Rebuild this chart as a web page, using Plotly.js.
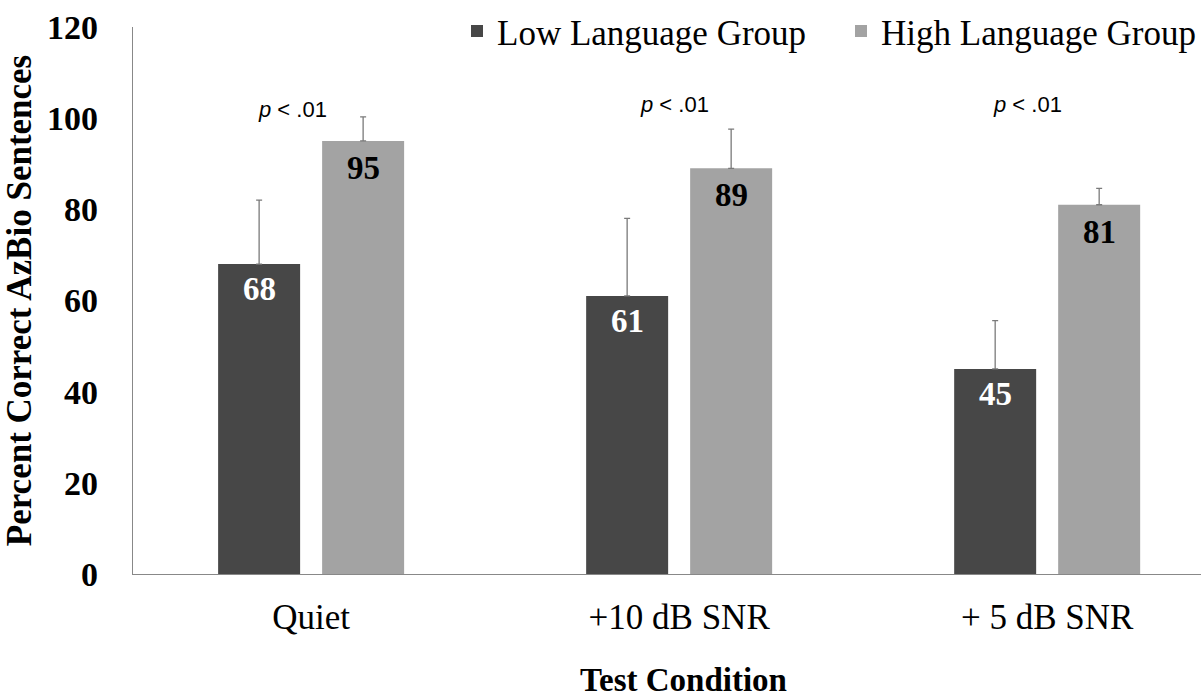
<!DOCTYPE html>
<html>
<head>
<meta charset="utf-8">
<script src="https://cdn.plot.ly/plotly-3.0.1.min.js"></script>
<style>html,body{margin:0;padding:0;background:#fff;}#chart{width:1201px;height:698px;}</style>
</head>
<body>
<div id="chart"></div>
<script>
const categories = ["Quiet", "+10 dB SNR", "+ 5 dB SNR"];
const lowValues = [68, 61, 45];
const highValues = [95, 89, 81];
const lowErr = [14, 17, 10.6];
const highErr = [5.3, 8.6, 3.6];
const seriesNames = ["Low Language Group", "High Language Group"];
const yTicks = [0, 20, 40, 60, 80, 100, 120];
const pLabel = "<i>p</i> < .01";
const pY = [101.9, 103.0, 103.0];
const pShift = [-0.05, -0.012, -0.054];

const serif = "Liberation Serif, Times New Roman, serif";
const barOffset = 0.1413;

const traces = [
  {type: "bar", name: seriesNames[0], x: categories, y: lowValues, legend: "legend",
   marker: {color: "#474747"},
   error_y: {type: "data", array: lowErr, symmetric: false, arrayminus: [0,0,0], color: "#7a7a7a", thickness: 1.3, width: 3},
   hoverinfo: "none"},
  {type: "bar", name: seriesNames[1], x: categories, y: highValues, legend: "legend2",
   marker: {color: "#a3a3a3"},
   error_y: {type: "data", array: highErr, symmetric: false, arrayminus: [0,0,0], color: "#7a7a7a", thickness: 1.3, width: 3},
   hoverinfo: "none"}
];

const annotations = [];
categories.forEach((c, i) => {
  annotations.push({x: i - barOffset, y: lowValues[i], xref: "x", yref: "y", text: "<b>" + lowValues[i] + "</b>",
    showarrow: false, yanchor: "top", yshift: -5, font: {family: serif, size: 33, color: "#ffffff"}});
  annotations.push({x: i + barOffset, y: highValues[i], xref: "x", yref: "y", text: "<b>" + highValues[i] + "</b>",
    showarrow: false, yanchor: "top", yshift: -7, font: {family: serif, size: 33, color: "#000000"}});
  annotations.push({x: i + pShift[i], y: pY[i], xref: "x", yref: "y", text: pLabel,
    showarrow: false, font: {family: "Liberation Sans, Arial, sans-serif", size: 22, color: "#000000"}});
});
annotations.push({x: 0.515, y: -(700 - 574) / 547, xref: "paper", yref: "paper", yanchor: "bottom",
  text: "<b>Test Condition</b>", showarrow: false,
  font: {family: serif, size: 33, color: "#000"}});

const legendFont = {family: serif, size: 35, color: "#000"};
const layout = {
  width: 1201, height: 698,
  margin: {l: 133, r: 0, t: 27, b: 124},
  paper_bgcolor: "#ffffff", plot_bgcolor: "#ffffff",
  barmode: "group", bargap: 0.4348, bargroupgap: 0.2116,
  showlegend: true,
  legend: {orientation: "h", x: (457 - 133) / 1068, xanchor: "left", y: 1.046, yanchor: "top",
    font: legendFont, bgcolor: "rgba(0,0,0,0)"},
  legend2: {orientation: "h", x: 1, xanchor: "right", y: 1.046, yanchor: "top",
    font: legendFont, bgcolor: "rgba(0,0,0,0)"},
  xaxis: {type: "category", range: [-0.484, 2.418], showline: true, linecolor: "#888", linewidth: 1.3,
    ticks: "", showgrid: false, zeroline: false, ticklabelstandoff: 12,
    tickfont: {family: serif, size: 35, color: "#000"}},
  yaxis: {range: [0, 120], tickvals: yTicks, showline: true, linecolor: "#888", linewidth: 1.3,
    ticks: "", showgrid: false, zeroline: false, ticklabelstandoff: 27,
    tickfont: {family: serif, size: 34, color: "#000", weight: "bold"},
    title: {text: "<b>Percent Correct AzBio Sentences</b>", font: {family: serif, size: 35, color: "#000"}, standoff: 12}},
  annotations: annotations
};

Plotly.newPlot("chart", traces, layout, {displayModeBar: false, staticPlot: true});
</script>
</body>
</html>
